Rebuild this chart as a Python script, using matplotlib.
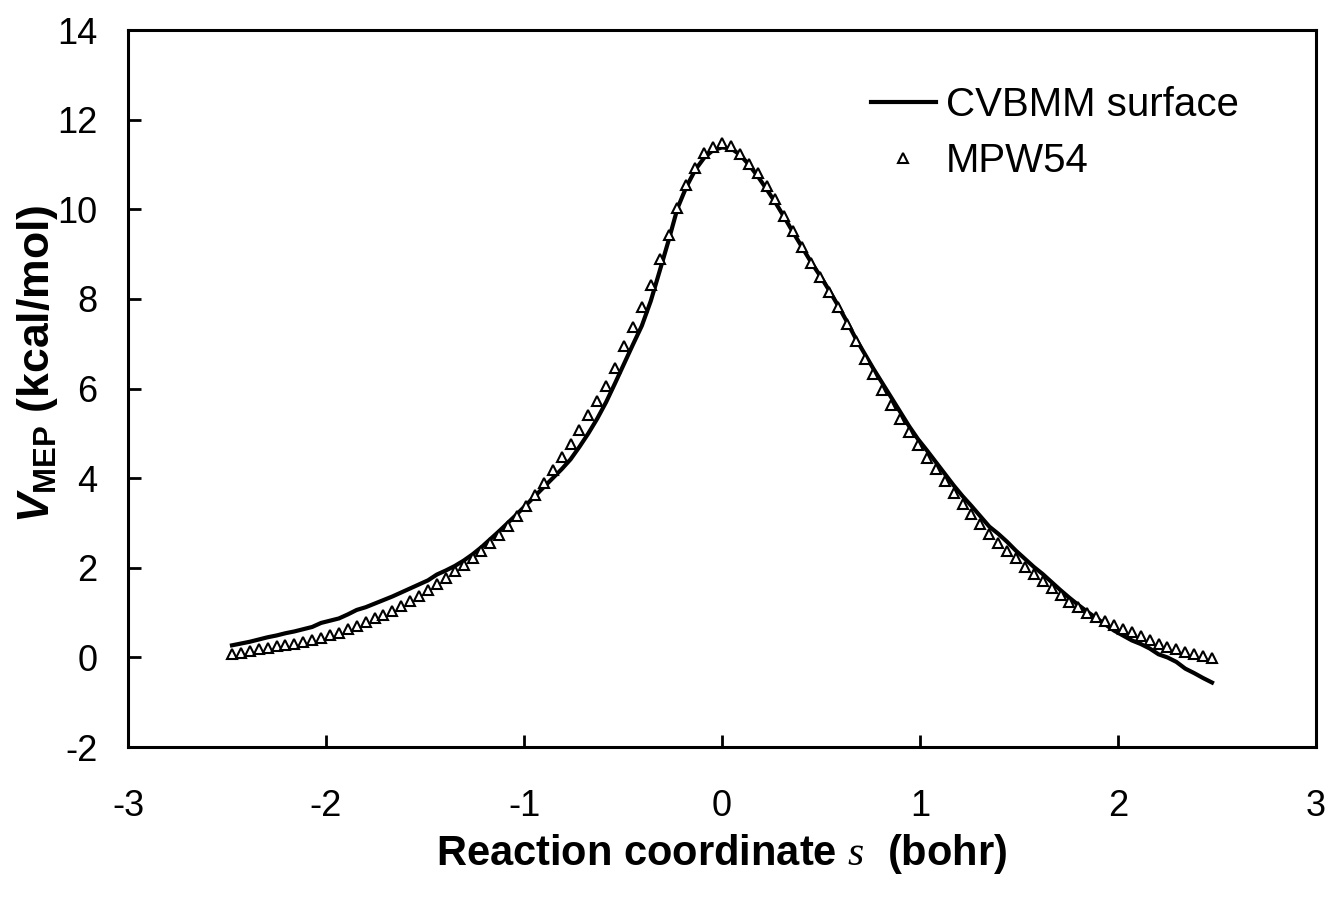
import numpy as np
import matplotlib

matplotlib.use("Agg")
import matplotlib.pyplot as plt

plt.rcParams["font.family"] = ["Liberation Sans", "DejaVu Sans"]
plt.rcParams["axes.unicode_minus"] = False
plt.rcParams["mathtext.fontset"] = "custom"
plt.rcParams["mathtext.it"] = "Liberation Sans:bold:italic"
plt.rcParams["mathtext.bf"] = "Liberation Sans:bold"
plt.rcParams["mathtext.sf"] = "Liberation Serif:italic"

# reaction coordinate grid (bohr), same for both series
s = np.linspace(-2.475, 2.475, 111)

cvbmm = [
    0.27, 0.31, 0.35, 0.40, 0.45, 0.49, 0.54, 0.58, 0.63, 0.68,
    0.77, 0.82, 0.87, 0.96, 1.06, 1.12, 1.20, 1.28, 1.36, 1.45,
    1.54, 1.63, 1.72, 1.85, 1.94, 2.04, 2.16, 2.30, 2.46, 2.64,
    2.82, 3.01, 3.20, 3.40, 3.60, 3.80, 4.00, 4.20, 4.42, 4.70,
    5.00, 5.33, 5.70, 6.12, 6.55, 6.98, 7.40, 7.95, 8.62, 9.30,
    10.02, 10.50, 10.88, 11.15, 11.32, 11.38, 11.36, 11.22, 11.00, 10.74,
    10.45, 10.15, 9.82, 9.48, 9.15, 8.82, 8.52, 8.20, 7.86, 7.50,
    7.12, 6.78, 6.44, 6.12, 5.80, 5.48, 5.16, 4.87, 4.62, 4.36,
    4.10, 3.84, 3.60, 3.38, 3.15, 2.92, 2.76, 2.58, 2.38, 2.20,
    2.02, 1.86, 1.68, 1.50, 1.33, 1.17, 1.02, 0.88, 0.74, 0.60,
    0.49, 0.38, 0.30, 0.20, 0.07, 0.00, -0.10, -0.25, -0.35, -0.46,
    -0.56,
]

mpw54 = [
    0.08, 0.11, 0.14, 0.18, 0.21, 0.25, 0.28, 0.31, 0.35, 0.39,
    0.44, 0.49, 0.55, 0.63, 0.71, 0.79, 0.87, 0.95, 1.04, 1.14,
    1.25, 1.37, 1.50, 1.64, 1.78, 1.92, 2.06, 2.21, 2.37, 2.55,
    2.74, 2.94, 3.15, 3.38, 3.63, 3.90, 4.18, 4.47, 4.76, 5.07,
    5.40, 5.73, 6.06, 6.45, 6.95, 7.38, 7.81, 8.30, 8.90, 9.42,
    10.02, 10.54, 10.92, 11.25, 11.40, 11.47, 11.42, 11.24, 11.02, 10.80,
    10.52, 10.22, 9.86, 9.52, 9.15, 8.80, 8.48, 8.16, 7.82, 7.44,
    7.05, 6.66, 6.32, 5.96, 5.64, 5.33, 5.04, 4.73, 4.46, 4.20,
    3.93, 3.68, 3.42, 3.21, 2.97, 2.75, 2.55, 2.37, 2.21, 2.02,
    1.86, 1.70, 1.55, 1.39, 1.24, 1.12, 1.00, 0.91, 0.82, 0.72,
    0.64, 0.56, 0.47, 0.39, 0.30, 0.23, 0.18, 0.13, 0.08, 0.03,
    -0.01,
]

fig = plt.figure(figsize=(13.31, 8.99), dpi=100)
ax = fig.add_axes([0.0962, 0.169, 0.8925, 0.7976])

ax.plot(s, cvbmm, color="black", lw=3, label="CVBMM surface", zorder=2)
ax.plot(s, mpw54, ls="none", marker="^", ms=7.5, mfc="white", mec="black",
        mew=1.5, label="MPW54", zorder=3)

ax.set_xlim(-3, 3)
ax.set_ylim(-2, 14)
ax.set_xticks(range(-3, 4))
ax.set_yticks(range(-2, 15, 2))
ax.tick_params(direction="in", length=9, width=2, labelsize=26, pad=22)
ax.tick_params(axis="x", pad=30)
for sp in ax.spines.values():
    sp.set_linewidth(2.2)

ax.set_xlabel(r"Reaction coordinate $\mathsf{s}$  (bohr)", fontsize=30,
              fontweight="bold", labelpad=6)
ax.set_ylabel(r"$\mathit{V}_{\mathbf{MEP}}$ (kcal/mol)", fontsize=32,
              fontweight="bold")
ax.yaxis.set_label_coords(-0.057, 0.535)

ax.legend(loc="upper left", bbox_to_anchor=(0.595, 0.973), frameon=False,
          fontsize=29, handlelength=1.6, handletextpad=0.25, labelspacing=0.45)

fig.savefig("out.png", dpi=100)
